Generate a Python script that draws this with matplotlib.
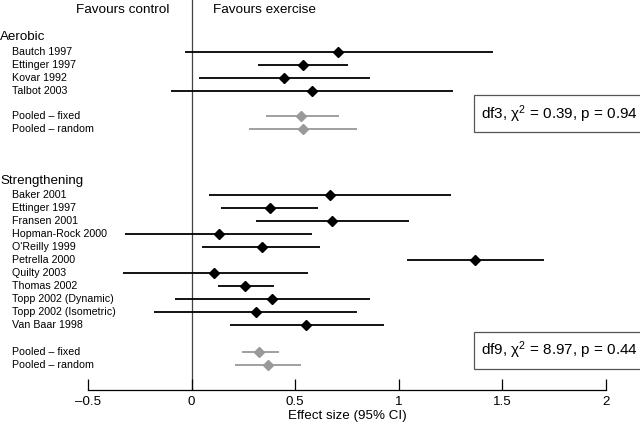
import matplotlib
matplotlib.use('Agg')
import matplotlib.pyplot as plt
import matplotlib.transforms as mtransforms

# Study labels, effect sizes and 95% CI
aer_labels = ['Bautch 1997', 'Ettinger 1997', 'Kovar 1992', 'Talbot 2003']
aer_es = [0.705, 0.537, 0.448, 0.58]
aer_lo = [-0.034, 0.32, 0.037, -0.098]
aer_hi = [1.454, 0.757, 0.86, 1.26]
aer_pool_labels = ['Pooled \u2013 fixed', 'Pooled \u2013 random']
aer_pool_es = [0.53, 0.54]
aer_pool_lo = [0.36, 0.277]
aer_pool_hi = [0.71, 0.80]

str_labels = ['Baker 2001', 'Ettinger 1997', 'Fransen 2001', 'Hopman-Rock 2000',
              "O'Reilly 1999", 'Petrella 2000', 'Quilty 2003', 'Thomas 2002',
              'Topp 2002 (Dynamic)', 'Topp 2002 (Isometric)', 'Van Baar 1998']
str_es = [0.667, 0.378, 0.68, 0.13, 0.342, 1.367, 0.11, 0.26, 0.387, 0.313, 0.55]
str_lo = [0.084, 0.143, 0.31, -0.32, 0.05, 1.04, -0.33, 0.127, -0.08, -0.18, 0.185]
str_hi = [1.25, 0.61, 1.05, 0.58, 0.62, 1.70, 0.56, 0.40, 0.86, 0.80, 0.93]
str_pool_labels = ['Pooled \u2013 fixed', 'Pooled \u2013 random']
str_pool_es = [0.327, 0.37]
str_pool_lo = [0.245, 0.21]
str_pool_hi = [0.42, 0.527]

aer_stat = 'df3, \u03c7$^2$ = 0.39, p = 0.94'
str_stat = 'df9, \u03c7$^2$ = 8.97, p = 0.44'

# Row positions
aer_rows = [0, 1, 2, 3]
aer_pool_rows = [4.9, 5.9]
str_rows = list(range(11, 22))
str_pool_rows = [23.1, 24.1]

plt.rcParams['font.family'] = ['Liberation Sans', 'DejaVu Sans']
plt.rcParams['mathtext.fontset'] = 'custom'
plt.rcParams['mathtext.rm'] = 'Liberation Sans'
plt.rcParams['mathtext.it'] = 'Liberation Sans'
fig = plt.figure(figsize=(6.4, 4.29), dpi=100)
ax = fig.add_axes([88 / 640, 39 / 429, 518 / 640, 390 / 429])
ax.set_xlim(-0.5, 2)
ax.set_ylim(26, -4)

black = '#000000'
grey = '#999999'


def draw(rows, es, lo, hi, color):
    ax.hlines(rows, lo, hi, color=color, lw=1.3, zorder=3)
    ax.plot(es, rows, 'D', color=color, ms=5, zorder=4, clip_on=False)


draw(aer_rows, aer_es, aer_lo, aer_hi, black)
draw(aer_pool_rows, aer_pool_es, aer_pool_lo, aer_pool_hi, grey)
draw(str_rows, str_es, str_lo, str_hi, black)
draw(str_pool_rows, str_pool_es, str_pool_lo, str_pool_hi, grey)

ax.axvline(0, color='#444444', lw=0.9, zorder=1)

trans = mtransforms.blended_transform_factory(fig.transFigure, ax.transData)
fs = 7.7
for r, lab in zip(aer_rows + aer_pool_rows, aer_labels + aer_pool_labels):
    ax.text(12 / 640, r, lab, transform=trans, fontsize=fs, va='center', ha='left')
for r, lab in zip(str_rows + str_pool_rows, str_labels + str_pool_labels):
    ax.text(12 / 640, r, lab, transform=trans, fontsize=fs, va='center', ha='left')
ax.text(0, -1.15, 'Aerobic', transform=trans, fontsize=9.6, va='center', ha='left')
ax.text(0, 9.9, 'Strengthening', transform=trans, fontsize=9.6, va='center', ha='left')

ax.text(-0.105, -3.2, 'Favours control', fontsize=9.7, va='center', ha='right')
ax.text(0.105, -3.2, 'Favours exercise', fontsize=9.7, va='center', ha='left')

box = dict(boxstyle='square,pad=0.5', fc='white', ec='#555555', lw=0.9)
ax.text(2.155, 4.75, aer_stat, fontsize=11, va='center', ha='right', bbox=box, clip_on=False)
ax.text(2.155, 22.95, str_stat, fontsize=11, va='center', ha='right', bbox=box, clip_on=False)

for s in ['top', 'right', 'left']:
    ax.spines[s].set_visible(False)
ax.spines['bottom'].set_linewidth(0.9)
ax.set_yticks([])
ax.set_xticks([-0.5, 0, 0.5, 1, 1.5, 2])
ax.set_xticklabels(['\u20130.5', '0', '0.5', '1', '1.5', '2'])
ax.tick_params(axis='x', direction='in', length=8, width=0.9, labelsize=9.6, pad=4)
ax.set_xlabel('Effect size (95% CI)', fontsize=9.6, labelpad=2)

fig.savefig('out.png', dpi=100)
